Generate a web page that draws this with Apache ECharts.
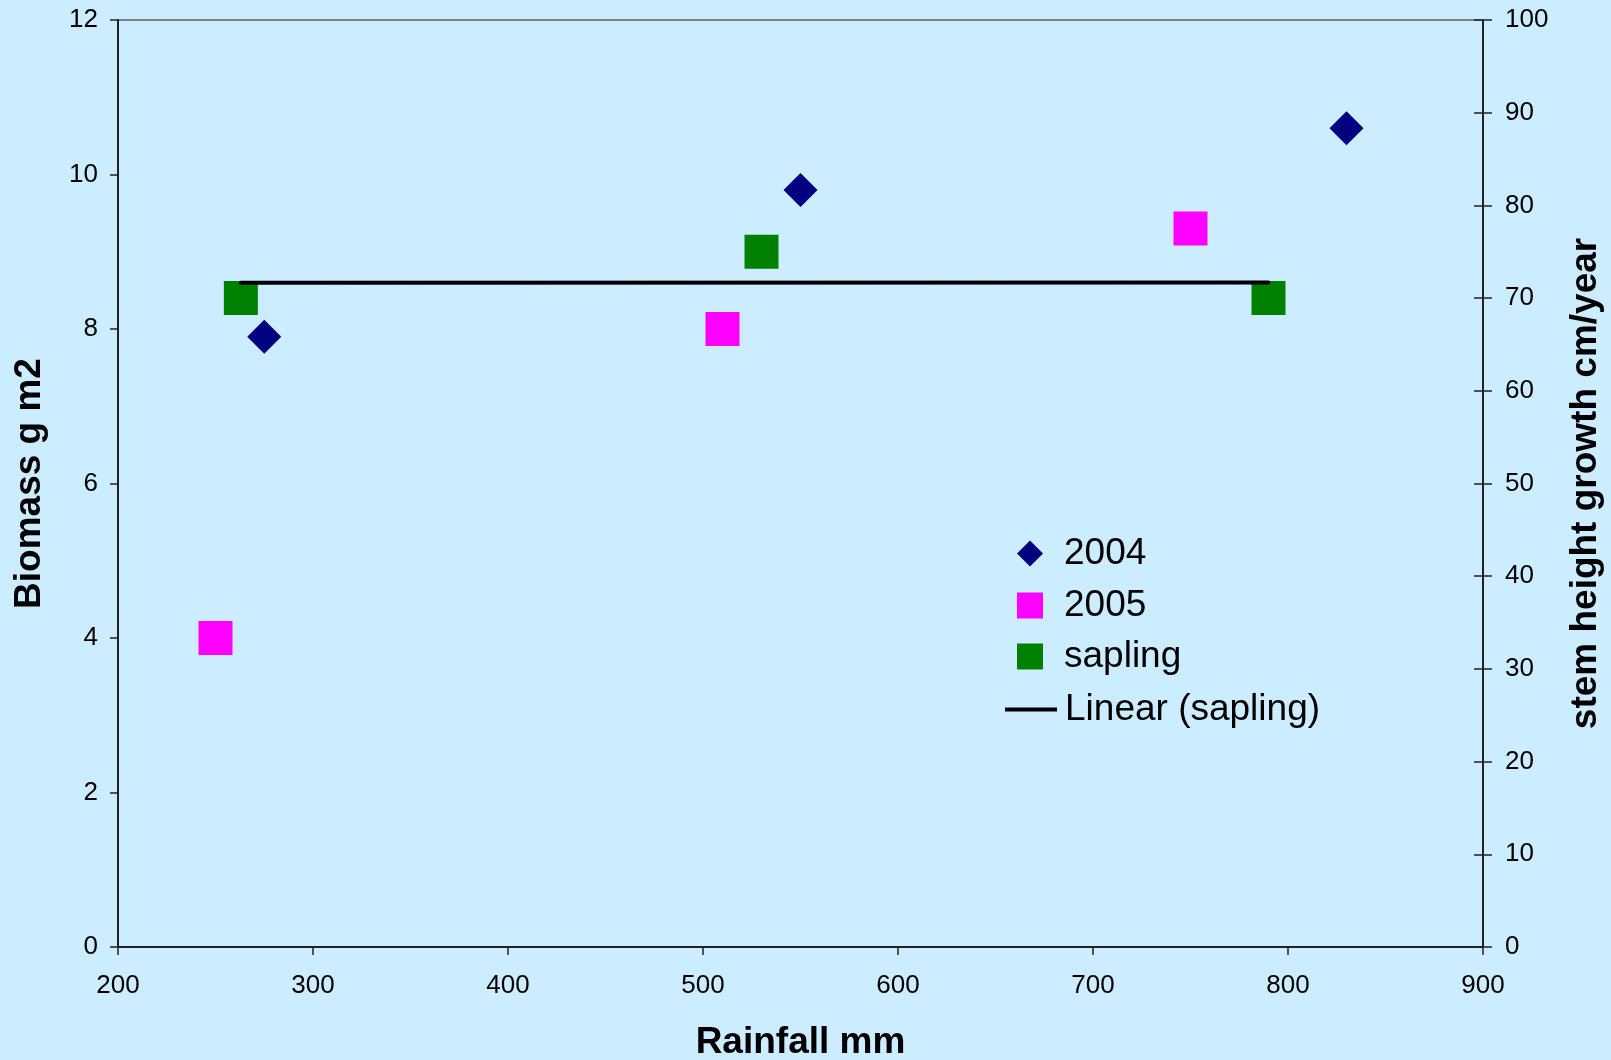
<!DOCTYPE html>
<html>
<head>
<meta charset="utf-8">
<script src="https://cdn.jsdelivr.net/npm/echarts@6/dist/echarts.min.js"></script>
<style>
  html, body { margin: 0; padding: 0; background: #CCECFF; }
  #chart { width: 1611px; height: 1060px; }
</style>
</head>
<body>
<div id="chart"></div>
<script>
// Rainfall (mm) against biomass (left axis) and sapling stem growth (right axis)
const rain2004 = [275, 550, 830];
const biomass2004 = [7.9, 9.8, 10.6];

const rain2005 = [250, 510, 750];
const biomass2005 = [4.0, 8.0, 9.3];

const rainSapling = [263, 530, 790];
const growthSapling = [70, 75, 70];

const xTicks = [200, 900, 100];      // min, max, step
const yLeftTicks = [0, 12, 2];
const yRightTicks = [0, 100, 10];

const FONT = '"Liberation Sans", Arial, sans-serif';

function pairs(xs, ys) { return xs.map((x, i) => [x, ys[i]]); }

// least-squares trend line across the sapling rainfall range
function linearTrend(xs, ys) {
  const n = xs.length;
  const mx = xs.reduce((a, b) => a + b, 0) / n;
  const my = ys.reduce((a, b) => a + b, 0) / n;
  let sxy = 0, sxx = 0;
  for (let i = 0; i < n; i++) {
    sxy += (xs[i] - mx) * (ys[i] - my);
    sxx += (xs[i] - mx) * (xs[i] - mx);
  }
  const slope = sxy / sxx;
  const x0 = Math.min(...xs), x1 = Math.max(...xs);
  return [[x0, my + slope * (x0 - mx)], [x1, my + slope * (x1 - mx)]];
}

const axisColor = '#222';
const tickFont = { color: '#000', fontFamily: FONT, fontSize: 26 };
const titleFont = { color: '#000', fontFamily: FONT, fontSize: 37, fontWeight: 'bold' };

function legendItem(name, icon, left, top, w, h, pad) {
  return {
    data: [{ name: name, icon: icon }],
    orient: 'vertical',
    left: left, top: top,
    itemWidth: w, itemHeight: h,
    selectedMode: false,
    textStyle: { fontFamily: FONT, fontSize: 37, color: '#000', lineHeight: 26, padding: [0, 0, 0, pad] }
  };
}

const chart = echarts.init(document.getElementById('chart'), null, { renderer: 'canvas' });
chart.setOption({
  backgroundColor: '#CCECFF',
  animation: false,
  grid: {
    left: 118, right: 128, top: 20, bottom: 113,
    outerBoundsMode: 'none', containLabel: false,
    show: true, borderColor: '#808080', borderWidth: 2, backgroundColor: 'transparent'
  },
  legend: [
    legendItem('2004', 'diamond', 1012, 530, 26, 26, 16),
    legendItem('2005', 'rect', 1012, 582, 26, 26, 16),
    legendItem('sapling', 'rect', 1012, 633, 26, 26, 16),
    legendItem('Linear (sapling)', 'rect', 1000, 686, 52, 4, 3)
  ],
  xAxis: {
    type: 'value',
    min: xTicks[0], max: xTicks[1], interval: xTicks[2],
    name: 'Rainfall mm', nameLocation: 'middle', nameGap: 77, nameTextStyle: titleFont,
    axisLine: { show: true, lineStyle: { color: axisColor, width: 2 } },
    axisTick: { show: true, length: 8, lineStyle: { color: axisColor, width: 1.5 } },
    axisLabel: Object.assign({ margin: 26 }, tickFont),
    splitLine: { show: false }
  },
  yAxis: [
    {
      type: 'value', position: 'left',
      min: yLeftTicks[0], max: yLeftTicks[1], interval: yLeftTicks[2],
      name: 'Biomass g m2', nameLocation: 'middle', nameGap: 70, nameTextStyle: titleFont,
      axisLine: { show: true, lineStyle: { color: axisColor, width: 2 } },
      axisTick: { show: true, length: 8, lineStyle: { color: axisColor, width: 1.5 } },
      axisLabel: Object.assign({ margin: 20 }, tickFont),
      splitLine: { show: false }
    },
    {
      type: 'value', position: 'right',
      min: yRightTicks[0], max: yRightTicks[1], interval: yRightTicks[2],
      name: 'stem height growth cm/year', nameLocation: 'middle', nameGap: 84, nameTextStyle: titleFont,
      axisLine: { show: true, lineStyle: { color: axisColor, width: 2 } },
      axisTick: { show: true, length: 9, lineStyle: { color: axisColor, width: 1.5 } },
      axisLabel: Object.assign({ margin: 22 }, tickFont),
      splitLine: { show: false }
    },
    {
      // inner half of the crossing ticks on the right axis
      type: 'value', position: 'right',
      min: yRightTicks[0], max: yRightTicks[1], interval: yRightTicks[2],
      axisLine: { show: false },
      axisTick: { show: true, inside: true, length: 9, lineStyle: { color: axisColor, width: 1.5 } },
      axisLabel: { show: false },
      splitLine: { show: false }
    }
  ],
  series: [
    {
      name: 'sapling', type: 'scatter', yAxisIndex: 1,
      symbol: 'rect', symbolSize: 34,
      itemStyle: { color: '#008000', opacity: 1 },
      data: pairs(rainSapling, growthSapling), z: 2
    },
    {
      name: 'Linear (sapling)', type: 'line', yAxisIndex: 1,
      showSymbol: false, symbol: 'none',
      lineStyle: { color: '#000', width: 4, cap: 'round' },
      itemStyle: { color: '#000' },
      data: linearTrend(rainSapling, growthSapling), z: 3
    },
    {
      name: '2004', type: 'scatter', yAxisIndex: 0,
      symbol: 'diamond', symbolSize: 34,
      itemStyle: { color: '#000080', opacity: 1 },
      data: pairs(rain2004, biomass2004), z: 4
    },
    {
      name: '2005', type: 'scatter', yAxisIndex: 0,
      symbol: 'rect', symbolSize: 34,
      itemStyle: { color: '#FF00FF', opacity: 1 },
      data: pairs(rain2005, biomass2005), z: 4
    }
  ]
});
</script>
</body>
</html>
